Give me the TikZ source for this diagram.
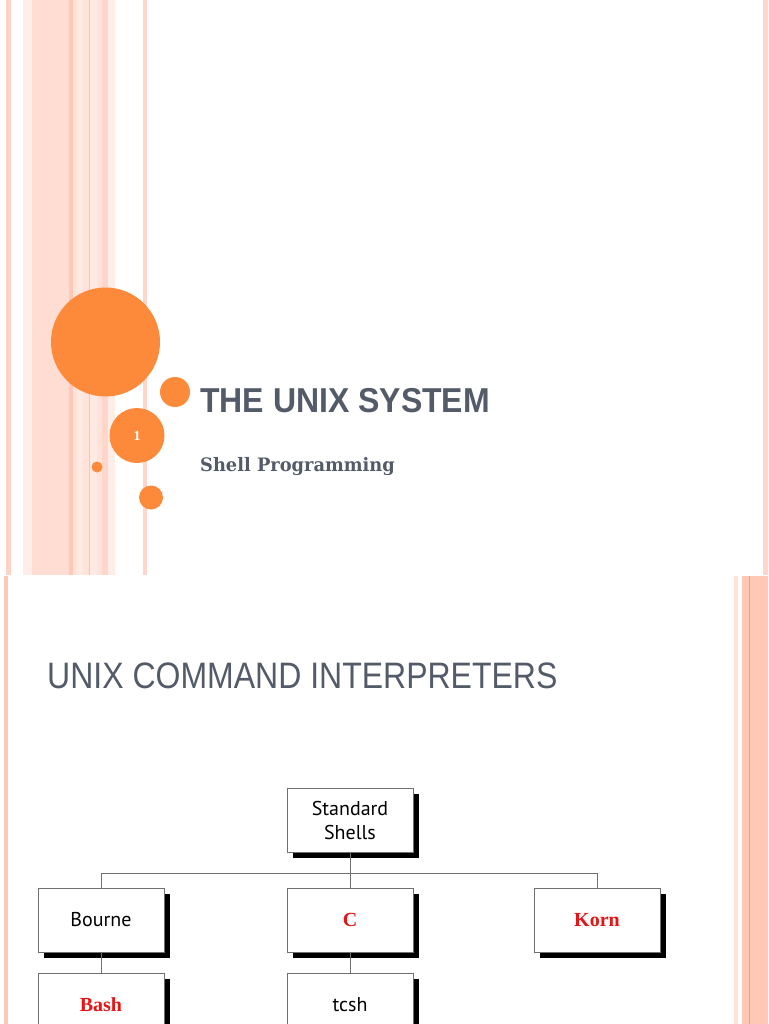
\documentclass[tikz,border=0pt]{standalone}
\usepackage{fontspec}
\usepackage{graphicx}
\newfontfamily\arialfont{Liberation Sans}
\newfontfamily\timesfont{Liberation Serif}
\newfontfamily\myriadfont{PT Sans}
\newfontfamily\schoolfont{DejaVu Serif}
\usetikzlibrary{shadows}

\definecolor{slidegray}{RGB}{83,90,104}
\definecolor{dotorange}{RGB}{252,138,58}
\definecolor{shellred}{RGB}{230,20,20}
\definecolor{boxline}{RGB}{112,112,112}
\definecolor{pinkA}{RGB}{255,211,198}
\definecolor{pinkB}{RGB}{255,238,232}
\definecolor{pinkC}{RGB}{255,221,211}
\definecolor{pinkD}{RGB}{255,199,182}
\definecolor{pinkE}{RGB}{255,226,216}
\definecolor{pinkF}{RGB}{255,234,227}
\definecolor{pinkG}{RGB}{232,204,196}
\definecolor{pinkH}{RGB}{255,214,201}
\definecolor{pinkR}{RGB}{255,201,181}
\definecolor{stripeorange}{RGB}{240,160,112}

\begin{document}
\begin{tikzpicture}[x=1pt,y=-1pt,
  shellbox/.style={draw=boxline, line width=0.8pt, fill=white,
    minimum width=126pt, minimum height=64pt, inner sep=0pt, align=center,
    drop shadow={shadow xshift=5.5pt, shadow yshift=-5.5pt, fill=black, opacity=1}},
  plainname/.style={font=\myriadfont\fontsize{20}{24}\selectfont},
  redname/.style={text=shellred, font=\timesfont\bfseries\fontsize{20}{24}\selectfont},
  link/.style={draw=boxline, line width=0.8pt}]
  \clip (0,0) rectangle (768,1024);

  % first slide: stripes on the left
  \fill[pinkA] (6,0) rectangle (11,575);
  \fill[pinkB] (23,0) rectangle (32,575);
  \fill[pinkC] (32,0) rectangle (69,575);
  \fill[pinkD] (69,0) rectangle (73,575);
  \fill[pinkE] (73,0) rectangle (77,575);
  \fill[pinkF] (77,0) rectangle (83,575);
  \fill[pinkE] (83,0) rectangle (89,575);
  \fill[pinkG] (89,0) rectangle (90,575);
  \fill[pinkF] (90,0) rectangle (97,575);
  \fill[pinkE] (97,0) rectangle (102,575);
  \fill[pinkH] (102,0) rectangle (108,575);
  \fill[pinkB] (108,0) rectangle (115,575);
  \fill[pinkH] (143,0) rectangle (147,575);
  \fill[pinkH] (763,0) rectangle (768,575);

  % circles
  \fill[dotorange] (105.5,342) circle (54.5);
  \fill[dotorange] (175,392) circle (15);
  \fill[dotorange] (97,467) circle (5.5);
  \fill[dotorange] (151,497.5) circle (12);
  \node[circle, fill=dotorange, minimum size=55pt, inner sep=0pt, text=white,
    font=\timesfont\bfseries\fontsize{14}{16}\selectfont] (pagenum) at (137,435.5) {1};

  \node[anchor=base west, inner sep=0pt, text=slidegray,
    font=\arialfont\bfseries\fontsize{32}{36}\selectfont] (title) at (200,412)
    {\scalebox{1}[1.08]{THE UNIX SYSTEM}};
  \node[anchor=base west, inner sep=0pt, text=slidegray,
    font=\schoolfont\bfseries\fontsize{17.8}{20}\selectfont] (subtitle) at (200,471)
    {\scalebox{1}[1.04]{Shell Programming}};

  % second slide
  \fill[pinkR] (4,576) rectangle (8,1024);
  \fill[pinkE] (734,576) rectangle (738,1024);
  \fill[pinkR] (742,576) rectangle (749,1024);
  \fill[stripeorange] (748.5,576) rectangle (750,1024);
  \fill[pinkR] (750,576) rectangle (768,1024);

  \node[anchor=base west, inner sep=0pt, text=slidegray,
    font=\arialfont\fontsize{32}{36}\selectfont] (heading) at (47,688)
    {\scalebox{1}[1.15]{UNIX COMMAND INTERPRETERS}};

  % shell tree
  \node[shellbox, plainname] (std) at (350,820) {Standard\\Shells};
  \node[shellbox, plainname] (bourne) at (101,920) {Bourne};
  \node[shellbox, redname] (cshell) at (350,920) {C};
  \node[shellbox, redname] (korn) at (597,920) {Korn};
  \node[shellbox, redname] (bash) at (101,1005) {Bash};
  \node[shellbox, plainname] (tcsh) at (350,1005) {tcsh};

  \coordinate (bus) at (350,873);
  \draw[link] (std) -- (cshell);
  \draw[link] (bourne.north) |- (bus) -| (korn.north);
  \draw[link] (bourne) -- (bash);
  \draw[link] (cshell) -- (tcsh);
\end{tikzpicture}
\end{document}
